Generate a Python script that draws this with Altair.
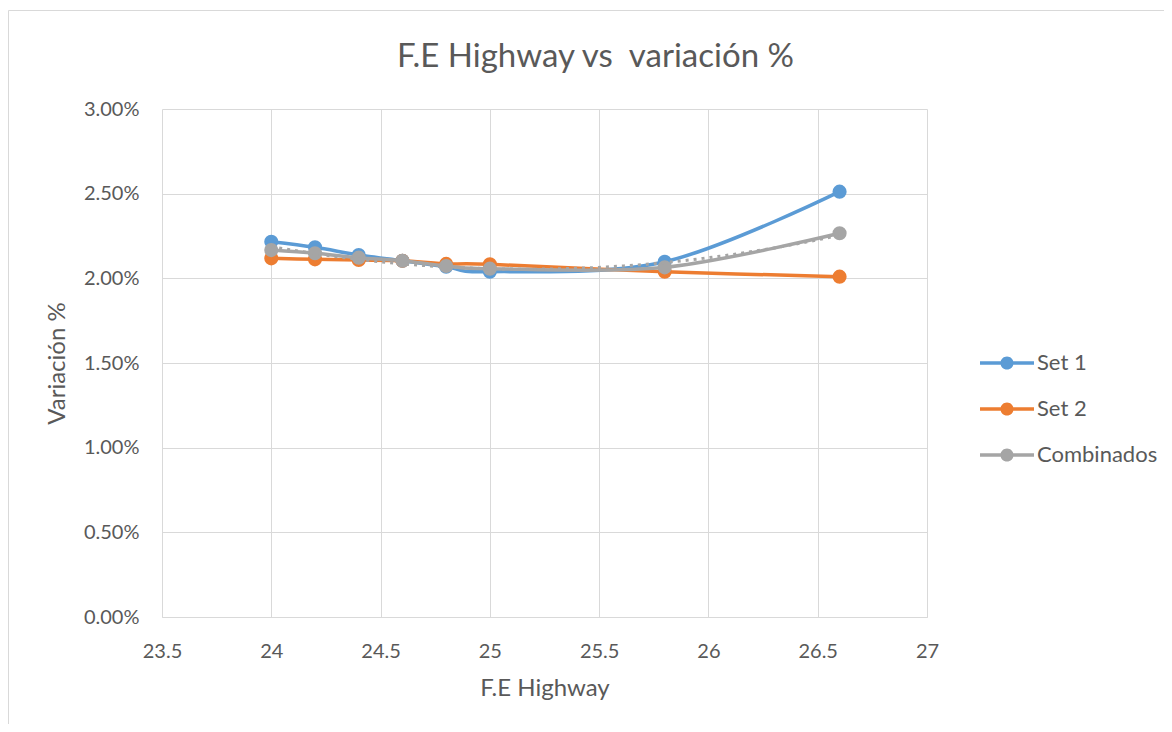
import altair as alt
import pandas as pd

# Data
fe_highway = [24, 24.2, 24.4, 24.6, 24.8, 25, 25.8, 26.6]
set1 = [0.02216, 0.02183, 0.02138, 0.02104, 0.02069, 0.02039, 0.02098, 0.02512]
set2 = [0.02118, 0.02112, 0.02108, 0.02104, 0.02085, 0.02083, 0.02039, 0.02010]
combinados = [0.02167, 0.02148, 0.02122, 0.02104, 0.02073, 0.02057, 0.02065, 0.02266]

series_names = ["Set 1", "Set 2", "Combinados"]
series_colors = ["#5B9BD5", "#ED7D31", "#A5A5A5"]
x_ticks = [23.5, 24, 24.5, 25, 25.5, 26, 26.5, 27]
y_ticks = [0, 0.005, 0.01, 0.015, 0.02, 0.025, 0.03]

rows = []
for name, vals in zip(series_names, [set1, set2, combinados]):
    for xv, yv in zip(fe_highway, vals):
        rows.append({"x": xv, "y": yv, "serie": name})
df = pd.DataFrame(rows)

FONT = "Lato"
TXT = "#595959"
GRID = "#D9D9D9"

x_enc = alt.X(
    "x:Q",
    scale=alt.Scale(domain=[23.5, 27], nice=False, zero=False),
    axis=alt.Axis(
        values=x_ticks, format="~g", title="F.E Highway",
        grid=True, gridColor=GRID, domainColor=GRID, ticks=False,
        labelFont=FONT, labelFontSize=20, labelColor=TXT, labelFlush=False,
        labelPadding=40, labelBaseline="alphabetic",
        titleFont=FONT, titleFontSize=24, titleColor=TXT, titleFontWeight="normal",
        titleX=382.5, titleY=78, titleBaseline="alphabetic", titleAlign="center",
    ),
)
y_enc = alt.Y(
    "y:Q",
    scale=alt.Scale(domain=[0, 0.03], nice=False),
    axis=alt.Axis(
        values=y_ticks, format=".2%", title="Variación %",
        grid=True, gridColor=GRID, domain=False, ticks=False,
        labelFont=FONT, labelFontSize=20, labelColor=TXT, labelPadding=23,
        titleFont=FONT, titleFontSize=24, titleColor=TXT, titleFontWeight="normal",
        titleX=-105, titleY=254, titleAngle=270, titleBaseline="middle", titleAlign="center",
    ),
)
color_scale = alt.Scale(domain=series_names, range=series_colors)
legend_path = "M-3.375,-0.22H3.375V0.22H-3.375Z M0,-0.82A0.82,0.82 0 1,1 0,0.82A0.82,0.82 0 1,1 0,-0.82Z"
legend = alt.Legend(
    title=None, orient="none", legendX=834, legendY=243,
    symbolType=legend_path, symbolSize=256, symbolStrokeWidth=0, symbolOpacity=1,
    labelFont=FONT, labelFontSize=22, labelColor=TXT, labelOffset=19,
    rowPadding=24, padding=0,
)

layers = []
# outer chart frame (decoration)
frame = alt.Chart(pd.DataFrame({"a": [0]})).mark_rect(
    fill="white", fillOpacity=0, stroke=GRID, strokeWidth=1
).encode(x=alt.value(-153.5), x2=alt.value(1200), y=alt.value(-98.5), y2=alt.value(800))
layers.append(frame)

for name, col in zip(series_names, series_colors):
    base = alt.Chart(df).transform_filter(alt.datum.serie == name)
    line = base.mark_line(interpolate="cardinal", strokeWidth=3.5, color=col).encode(
        x=x_enc, y=y_enc
    )
    pts = base.mark_point(filled=True, size=200, opacity=1, shape="circle").encode(
        x=x_enc, y=y_enc, color=alt.Color("serie:N", scale=color_scale, legend=legend)
    )
    layers += [line, pts]

trend = alt.Chart(df).transform_filter(alt.datum.serie == "Combinados").transform_regression(
    "x", "y", method="poly", order=2, extent=[24, 26.6]
).mark_line(color="#A5A5A5", strokeWidth=3, strokeDash=[3, 5]).encode(x=x_enc, y=y_enc)
layers.append(trend)

chart = alt.layer(*layers).properties(
    width=765, height=508,
    padding={"left": 154, "top": 101, "right": 237, "bottom": 107},
    autosize=alt.AutoSizeParams(type="none"),
    title=alt.TitleParams(
        "F.E Highway vs \u00a0variación %", font=FONT, fontSize=33, fontWeight="normal",
        color=TXT, anchor="middle", dx=51, dy=90, offset=0, baseline="alphabetic",
    ),
).configure_view(stroke=None)

chart.save("out.html", embed_options={"renderer": "svg", "actions": False})
